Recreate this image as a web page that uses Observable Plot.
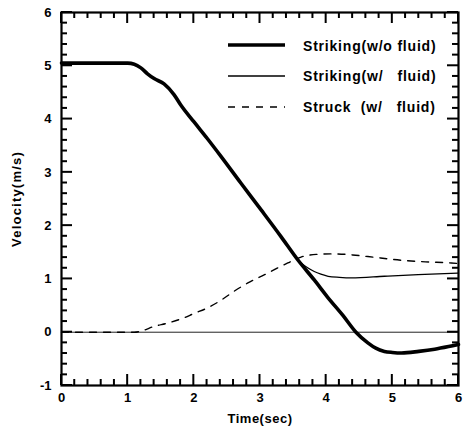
<!DOCTYPE html>
<html>
<head>
<meta charset="utf-8">
<script src="https://cdn.jsdelivr.net/npm/d3@7"></script>
<script src="https://cdn.jsdelivr.net/npm/@observablehq/plot@0.6"></script>
<style>
  html, body { margin: 0; padding: 0; background: #fff; }
  g[aria-label="y-axis label"] text { letter-spacing: 1.2px; }
  g[aria-label="x-axis label"] text { letter-spacing: 0.5px; }
  #tickLayer { position: absolute; left: 0; top: 0; pointer-events: none; }
  #legend { position: absolute; left: 226px; top: 36px; font-family: "Liberation Sans", Arial, sans-serif; font-weight: bold; font-size: 14px; letter-spacing: 0.8px; white-space: pre; color: #000; }
  #legend .row { position: absolute; left: 0; height: 20px; width: 240px; }
  #legend .row svg { position: absolute; left: 0; top: 0; }
  #legend .row span { position: absolute; left: 77px; top: 2px; }
</style>
</head>
<body>
<div id="main"></div>
<script>
// ---- data ----
const tWoFluid = [0, 0.5, 1.0, 1.1, 1.2, 1.3, 1.4, 1.55, 1.7, 1.8, 2.0, 2.2, 2.41, 2.71, 3.02, 3.32, 3.57, 3.82, 4.02, 4.25, 4.45, 4.63, 4.75, 4.88, 5.0, 5.14, 5.4, 5.64, 5.85, 6.0];
const vWoFluid = [5.05, 5.05, 5.05, 5.03, 4.96, 4.85, 4.76, 4.66, 4.46, 4.27, 3.95, 3.64, 3.30, 2.80, 2.29, 1.79, 1.36, 0.98, 0.66, 0.32, 0.0, -0.2, -0.3, -0.36, -0.38, -0.39, -0.36, -0.32, -0.27, -0.23];
const tWFluid = [0, 0.5, 1.0, 1.1, 1.2, 1.3, 1.4, 1.55, 1.7, 1.8, 2.0, 2.2, 2.41, 2.71, 3.02, 3.32, 3.57, 3.65, 3.72, 3.82, 3.92, 4.03, 4.2, 4.38, 4.88, 5.39, 6.0];
const vWFluid = [5.05, 5.05, 5.05, 5.03, 4.96, 4.85, 4.76, 4.66, 4.46, 4.27, 3.95, 3.64, 3.30, 2.80, 2.29, 1.79, 1.36, 1.27, 1.21, 1.14, 1.09, 1.05, 1.03, 1.02, 1.05, 1.08, 1.11];
const tStruck = [0, 1.1, 1.2, 1.4, 1.6, 1.83, 2.0, 2.23, 2.41, 2.61, 2.81, 3.07, 3.42, 3.62, 3.85, 4.13, 4.4, 4.63, 5.14, 5.5, 5.89, 6.0];
const vStruck = [0, 0, 0.02, 0.11, 0.17, 0.26, 0.35, 0.47, 0.60, 0.77, 0.92, 1.08, 1.30, 1.41, 1.46, 1.47, 1.45, 1.42, 1.35, 1.32, 1.30, 1.29];
const seriesNames = ["Striking(w/o fluid)", "Striking(w/   fluid)", "Struck  (w/   fluid)"];
const xTickLabels = [0, 1, 2, 3, 4, 5, 6];
const yTickLabels = [-1, 0, 1, 2, 3, 4, 5, 6];
const xLabel = "Time(sec)";
const yLabel = "Velocity(m/s)";

const toRows = (ts, vs) => ts.map((t, i) => ({t, v: vs[i]}));
const woFluid = toRows(tWoFluid, vWoFluid);
const wFluid = toRows(tWFluid, vWFluid);
const struck = toRows(tStruck, vStruck);

const W = 466, H = 428, mL = 61, mR = 8, mT = 12, mB = 43;
const xDom = [0, 6], yDom = [-1, 6];
const majorLen = 11, minorLen = 6;
const xMinor = d3.range(0, 6.0001, 0.2).map(d => +d.toFixed(1)).filter(d => !xTickLabels.includes(d));
const yMinor = d3.range(-1, 6.0001, 0.2).map(d => +d.toFixed(1)).filter(d => !yTickLabels.includes(d));

// ---- main chart ----
const chart = Plot.plot({
  width: W, height: H,
  marginLeft: mL, marginRight: mR, marginTop: mT, marginBottom: mB,
  style: {fontFamily: "'Liberation Sans', Arial, sans-serif", fontSize: "13px", fontWeight: "bold", color: "#000", background: "#fff"},
  x: {domain: xDom},
  y: {domain: yDom},
  marks: [
    Plot.ruleY([0], {stroke: "#222", strokeWidth: 1}),
    Plot.line(struck, {x: "t", y: "v", stroke: "#000", strokeWidth: 1.4, strokeDasharray: "7,7", curve: "monotone-x"}),
    Plot.line(wFluid, {x: "t", y: "v", stroke: "#000", strokeWidth: 1.3, curve: "monotone-x"}),
    Plot.line(woFluid, {x: "t", y: "v", stroke: "#000", strokeWidth: 3.6, curve: "monotone-x"}),
    Plot.frame({stroke: "#000", strokeWidth: 2.2}),
    Plot.axisX({anchor: "bottom", ticks: xTickLabels, tickSize: 0, tickPadding: 7, tickFormat: d => String(d), label: xLabel, labelAnchor: "center", labelOffset: 37, labelArrow: "none"}),
    Plot.axisY({anchor: "left", ticks: yTickLabels, tickSize: 0, tickPadding: 10, tickFormat: d => String(d), label: yLabel, labelAnchor: "center", labelOffset: 50, labelArrow: "none"})
  ]
});
document.getElementById("main").appendChild(chart);

// ---- inward ticks on all four sides, placed with the chart's own scales ----
const sx = chart.scale("x"), sy = chart.scale("y");
const [x0, x1] = sx.range, [y0, y1] = sy.range; // y0 = bottom, y1 = top
const tickSvg = d3.create("svg")
  .attr("id", "tickLayer")
  .attr("width", W).attr("height", H)
  .attr("stroke", "#000").attr("stroke-width", 2);
const xTicks = [...xTickLabels.map(v => [v, majorLen]), ...xMinor.map(v => [v, minorLen])];
const yTicks = [...yTickLabels.map(v => [v, majorLen]), ...yMinor.map(v => [v, minorLen])];
const bottomY = Math.max(y0, y1), topY = Math.min(y0, y1);
const leftX = Math.min(x0, x1), rightX = Math.max(x0, x1);
for (const [v, len] of xTicks) {
  const px = sx.apply(v);
  tickSvg.append("line").attr("x1", px).attr("x2", px).attr("y1", bottomY).attr("y2", bottomY - len);
  tickSvg.append("line").attr("x1", px).attr("x2", px).attr("y1", topY).attr("y2", topY + len);
}
for (const [v, len] of yTicks) {
  const py = sy.apply(v);
  tickSvg.append("line").attr("y1", py).attr("y2", py).attr("x1", leftX).attr("x2", leftX + len);
  tickSvg.append("line").attr("y1", py).attr("y2", py).attr("x1", rightX).attr("x2", rightX - len);
}
document.body.appendChild(tickSvg.node());

// ---- legend overlay inside the plot area ----
const legendStyles = [
  {w: 3.6, dash: null},
  {w: 1.3, dash: null},
  {w: 1.4, dash: "7,7"}
];
const legendTops = [0, 30, 61];
const legend = document.createElement("div");
legend.id = "legend";
seriesNames.forEach((name, i) => {
  const row = document.createElement("div");
  row.className = "row";
  row.style.top = legendTops[i] + "px";
  const s = legendStyles[i];
  row.innerHTML = `<svg width="64" height="20"><line x1="2" x2="59" y1="${i === 0 ? 9 : 10}" y2="${i === 0 ? 9 : 10}" stroke="#000" stroke-width="${s.w}" ${s.dash ? `stroke-dasharray="${s.dash}"` : ""}/></svg><span>${name}</span>`;
  legend.appendChild(row);
});
document.body.appendChild(legend);
</script>
</body>
</html>
